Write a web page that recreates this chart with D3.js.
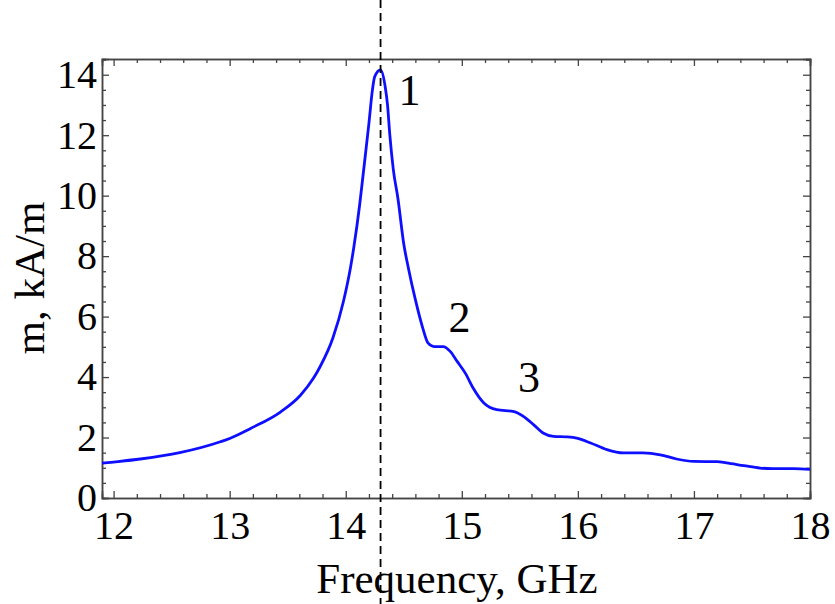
<!DOCTYPE html>
<html lang="en">
<head>
<meta charset="UTF-8">
<title>m vs frequency</title>
<style>
    body { margin: 0; background: #fff; }
    svg { display: block; }
    text { font-family: "Liberation Serif", "Times New Roman", serif; }
    .frame .domain { stroke: #444; stroke-width: 1.5; }
    .frame .tick line { stroke: #444; stroke-width: 1.3; }
    .frame .tick text { fill: #000; font-size: 40px; font-family: "Liberation Serif", serif; }
</style>
</head>
<body>
<svg id="chart" width="835" height="604"></svg>
<script src="https://d3js.org/d3.v7.min.js"></script>
<script>
// frequency, GHz
var freq = [11.90, 12.00, 12.23, 12.57, 12.92, 13.00, 13.18, 13.44, 13.61, 13.72,
            13.78, 13.89, 13.98, 14.04, 14.07, 14.12, 14.15, 14.20, 14.23, 14.25,
            14.30, 14.34, 14.36, 14.38, 14.41, 14.45, 14.50, 14.54, 14.60, 14.66,
            14.71, 14.76, 14.84, 14.90, 14.96, 15.03, 15.10, 15.19, 15.30, 15.45,
            15.53, 15.62, 15.70, 15.79, 15.91, 15.99, 16.11, 16.25, 16.39, 16.56,
            16.71, 16.85, 17.00, 17.20, 17.28, 17.43, 17.57, 17.68, 17.86, 18.00];
// m, kA/m
var mag  = [1.15, 1.19, 1.29, 1.50, 1.86, 1.97, 2.30, 2.85, 3.40, 3.95,
            4.35, 5.30, 6.50, 7.60, 8.30, 9.70, 10.70, 12.40, 13.50, 13.94,
            14.16, 13.60, 13.00, 12.00, 10.86, 9.90, 8.40, 7.60, 6.56, 5.67,
            5.12, 5.01, 5.01, 4.85, 4.52, 4.13, 3.62, 3.14, 2.92, 2.86,
            2.70, 2.42, 2.15, 2.04, 2.02, 1.98, 1.82, 1.60, 1.49, 1.49,
            1.43, 1.29, 1.21, 1.20, 1.16, 1.07, 0.99, 0.97, 0.97, 0.95];

var xTicks = [12, 13, 14, 15, 16, 17, 18];
var yTicks = [0, 2, 4, 6, 8, 10, 12, 14];
var resonance = 14.3;
var peakLabels = [
    { text: "1", f: 14.55, m: 13.0 },
    { text: "2", f: 14.98, m: 5.5 },
    { text: "3", f: 15.58, m: 3.5 }
];

var margin = { top: 59, right: 25, bottom: 106, left: 102 };
var width = 835 - margin.left - margin.right;
var height = 604 - margin.top - margin.bottom;

var svg = d3.select("#chart");
var g = svg.append("g")
    .attr("transform", "translate(" + margin.left + "," + margin.top + ")");

var x = d3.scaleLinear().domain([11.9, 18]).range([0, width]);
var y = d3.scaleLinear().domain([0, 14.52]).range([height, 0]);

var xMinor = d3.range(12, 18.01, 0.2).filter(v => Math.abs(v - Math.round(v)) > 0.01);
var yMinor = d3.range(0, 14.51, 0.5).filter(v => Math.abs(v / 2 - Math.round(v / 2)) > 0.01);

// minor ticks on all four sides
g.append("g").attr("class", "frame")
    .attr("transform", "translate(0," + height + ")")
    .call(d3.axisBottom(x).tickValues(xMinor).tickSize(-4).tickFormat(""));
g.append("g").attr("class", "frame")
    .call(d3.axisTop(x).tickValues(xMinor).tickSize(-4).tickFormat(""));
g.append("g").attr("class", "frame")
    .call(d3.axisLeft(y).tickValues(yMinor).tickSize(-4).tickFormat(""));
g.append("g").attr("class", "frame")
    .attr("transform", "translate(" + width + ",0)")
    .call(d3.axisRight(y).tickValues(yMinor).tickSize(-4).tickFormat(""));

// major ticks
var xAxis = g.append("g").attr("class", "frame")
    .attr("transform", "translate(0," + height + ")")
    .call(d3.axisBottom(x).tickValues(xTicks).tickSize(-7).tickFormat(d3.format("d")));
xAxis.selectAll(".tick text").attr("dy", "0.71em").attr("y", 13);
g.append("g").attr("class", "frame")
    .call(d3.axisTop(x).tickValues(xTicks).tickSize(-7).tickFormat(""));
var yAxis = g.append("g").attr("class", "frame")
    .call(d3.axisLeft(y).tickValues(yTicks).tickSize(-7).tickFormat(d3.format("d")));
yAxis.selectAll(".tick text").attr("x", -5);
g.append("g").attr("class", "frame")
    .attr("transform", "translate(" + width + ",0)")
    .call(d3.axisRight(y).tickValues(yTicks).tickSize(-7).tickFormat(""));

// curve
var line = d3.line()
    .x((d, i) => x(freq[i]))
    .y(d => y(d))
    .curve(d3.curveMonotoneX);

g.append("path")
    .datum(mag)
    .attr("fill", "none")
    .attr("stroke", "#0f0fff")
    .attr("stroke-width", 2.8)
    .attr("stroke-linejoin", "round")
    .attr("d", line);

// resonance marker (runs past the frame)
g.append("line")
    .attr("x1", x(resonance)).attr("x2", x(resonance))
    .attr("y1", -margin.top).attr("y2", height + margin.bottom)
    .attr("stroke", "#000")
    .attr("stroke-width", 1.8)
    .attr("stroke-dasharray", "8,5");

// peak numbers
g.selectAll(".peak")
    .data(peakLabels)
    .enter().append("text")
    .attr("class", "peak")
    .attr("x", d => x(d.f))
    .attr("y", d => y(d.m))
    .attr("text-anchor", "middle")
    .style("font-size", "44px")
    .text(d => d.text);

// axis titles
svg.append("text")
    .attr("x", 457)
    .attr("y", 593)
    .attr("text-anchor", "middle")
    .style("font-size", "43px")
    .text("Frequency, GHz");

svg.append("text")
    .attr("transform", "translate(44,278) rotate(-90)")
    .attr("text-anchor", "middle")
    .style("font-size", "43px")
    .text("m, kA/m");
</script>
</body>
</html>
